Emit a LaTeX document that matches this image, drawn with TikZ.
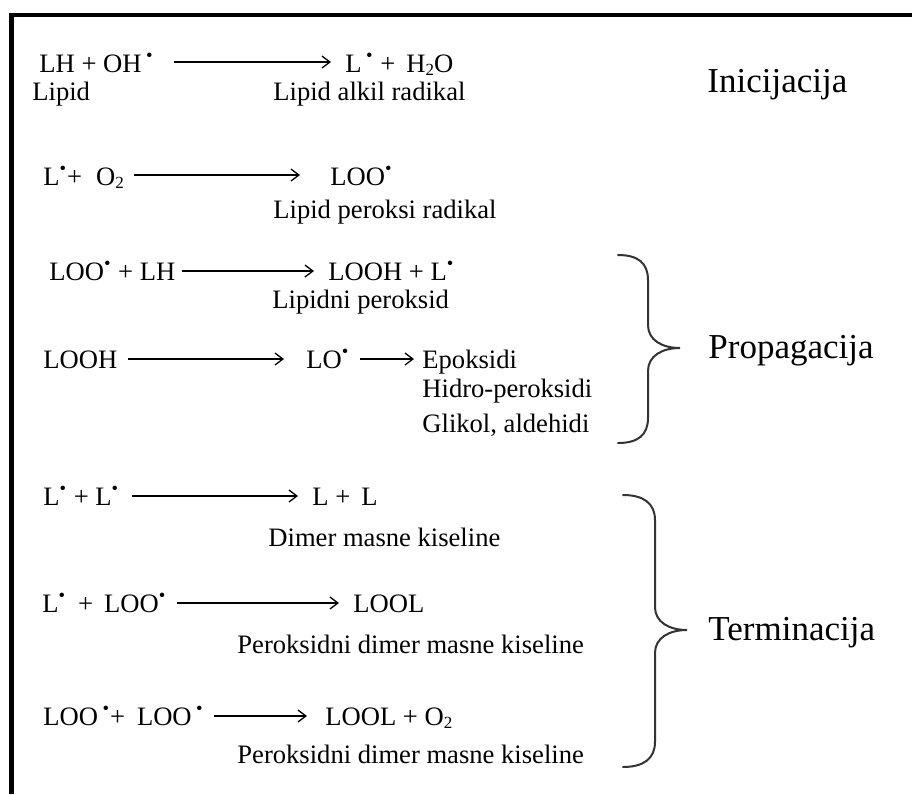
\documentclass[tikz,border=0pt]{standalone}
\usepackage{fontspec}
\setmainfont{Liberation Serif}
\usetikzlibrary{arrows.meta}
\newcommand{\lowtwo}{\raisebox{-1.5pt}{\fontsize{8.5}{9}\selectfont 2}}

\begin{document}
\begin{tikzpicture}[x=0.5pt, y=-0.5pt,
  chem/.style={inner sep=0pt, anchor=base west, font=\fontsize{13.3}{16}\selectfont},
  lbl/.style={chem},
  stage/.style={inner sep=0pt, anchor=base west, font=\fontsize{17.5}{21}\selectfont},
  rxn/.style={-{Straight Barb[length=4pt,width=6pt]}, line width=0.65pt, shorten <=5pt, shorten >=7pt},
  brace/.style={line width=1pt, draw=black!80, line cap=round}]
\useasboundingbox (0,0) rectangle (912,794);
% frame
\draw[line width=2.3pt] (11.5,794) -- (11.5,15) -- (912,15);

% inicijacija
\node[chem] (r1) at (39,72) {LH + OH\,\textsuperscript{•}};
\node[chem] (p1) at (345,72) {L\,\textsuperscript{•} + \,H\lowtwo O};
\node[lbl] (l1a) at (32,100) {Lipid};
\node[lbl] (l1b) at (273,100) {Lipid alkil radikal};
\draw[rxn, shorten <=10pt] ([yshift=5pt]r1.base east) -- ([yshift=5pt]p1.base west);
\node[chem] (r2) at (43,185) {L\textsuperscript{•}+\hspace{7pt}O\lowtwo};
\node[chem] (p2) at (330,185) {LOO\textsuperscript{•}};
\node[lbl] (l2) at (273,218) {Lipid peroksi radikal};
\draw[rxn, shorten >=15pt] ([yshift=5pt]r2.base east) -- ([yshift=5pt]p2.base west);
\node[stage] (ini) at (707,92) {Inicijacija};

% propagacija
\node[chem] (r3) at (49,280) {LOO\textsuperscript{•} + LH};
\node[chem] (p3) at (328,280) {LOOH + L\textsuperscript{•}};
\node[lbl] (l3) at (272,308) {Lipidni peroksid};
\draw[rxn, shorten <=3pt] ([yshift=4.5pt]r3.base east) -- ([yshift=4.5pt]p3.base west);
\node[chem] (r4) at (43,368) {LOOH};
\node[chem] (p4) at (306,368) {LO\textsuperscript{•}};
\node[chem] (e4) at (422,368) {Epoksidi};
\node[lbl] (h4) at (422,397) {Hidro-peroksidi};
\node[lbl] (g4) at (422,432) {Glikol, aldehidi};
\draw[rxn, shorten >=11pt] ([yshift=4.5pt]r4.base east) -- ([yshift=4.5pt]p4.base west);
\draw[rxn, shorten >=4pt] ([yshift=4.5pt]p4.base east) -- ([yshift=4.5pt]e4.base west);
\draw[brace] (618,255) .. controls (638,255) and (648,263) .. (648,280) -- (648,325)
  .. controls (648,340) and (662,348) .. (680,348) .. controls (662,348) and (648,356) .. (648,371)
  -- (648,418) .. controls (648,435) and (638,443) .. (618,443);
\node[stage] (pro) at (708,358) {Propagacija};

% terminacija
\node[chem] (r5) at (43,505) {L\textsuperscript{•} + L\textsuperscript{•}};
\node[chem] (p5) at (312,505) {L + \,L};
\node[lbl] (l5) at (268,546) {Dimer masne kiseline};
\draw[rxn, shorten <=6pt] ([yshift=4.5pt]r5.base east) -- ([yshift=4.5pt]p5.base west);
\node[chem] (r6) at (42,612) {L\textsuperscript{•}\hspace{6pt}+\hspace{5.5pt}LOO\textsuperscript{•}};
\node[chem] (p6) at (353,612) {LOOL};
\node[lbl] (l6) at (237,653) {Peroksidni dimer masne kiseline};
\draw[rxn] ([yshift=4.5pt]r6.base east) -- ([yshift=4.5pt]p6.base west);
\node[chem] (r7) at (43,725) {LOO\,\textsuperscript{•}+\hspace{6pt}LOO\,\textsuperscript{•}};
\node[chem] (p7) at (325,725) {LOOL + O\lowtwo};
\node[lbl] (l7) at (237,763) {Peroksidni dimer masne kiseline};
\draw[rxn, shorten >=9pt] ([yshift=4.5pt]r7.base east) -- ([yshift=4.5pt]p7.base west);
\draw[brace] (623,495) .. controls (643,495) and (655,503) .. (655,520) -- (655,607)
  .. controls (655,622) and (669,630) .. (687,630) .. controls (669,630) and (655,638) .. (655,653)
  -- (655,742) .. controls (655,759) and (643,767) .. (623,767);
\node[stage] (ter) at (708,640) {Terminacija};
\end{tikzpicture}
\end{document}
